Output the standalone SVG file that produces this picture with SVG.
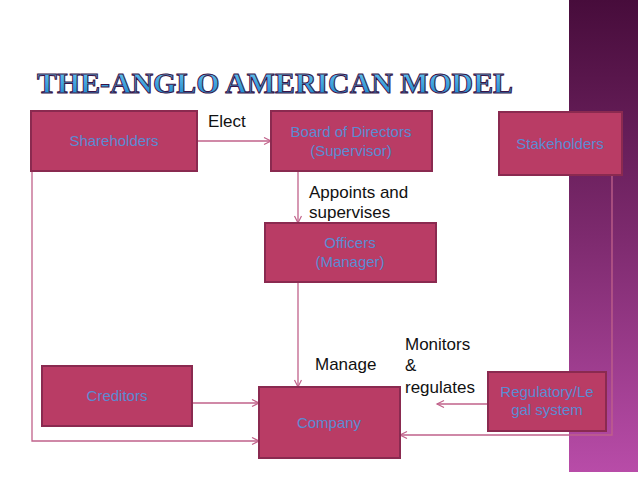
<svg xmlns="http://www.w3.org/2000/svg" width="638" height="479" viewBox="0 0 638 479">
  <defs>
    <linearGradient id="side" x1="0" y1="0" x2="0" y2="1">
      <stop offset="0" stop-color="#470c3b"/>
      <stop offset="0.5" stop-color="#7d2a6e"/>
      <stop offset="1" stop-color="#b84ca8"/>
    </linearGradient>
    <linearGradient id="titleFill" x1="0" y1="0" x2="0" y2="1">
      <stop offset="0" stop-color="#6fcdf5"/>
      <stop offset="1" stop-color="#1780c9"/>
    </linearGradient>
    <marker id="arr" markerWidth="10" markerHeight="10" refX="8" refY="4" orient="auto" markerUnits="userSpaceOnUse">
      <path d="M1,0.5 L8,4 L1,7.5" fill="none" stroke="#c0628a" stroke-width="1.2"/>
    </marker>
  </defs>
  <style>
    .box { fill: #b93c65; stroke: #8a2a50; stroke-width: 2; }
    .bt { font-family: "Liberation Sans", Arial, sans-serif; font-size: 15px; fill: #5b8bd2; text-anchor: middle; }
    .lbl { font-family: "Liberation Sans", Arial, sans-serif; font-size: 17px; fill: #111111; }
    .con { fill: none; stroke: #c0628a; stroke-width: 1.3; }
    .title { font-family: "Liberation Serif", "Times New Roman", serif; font-weight: bold; font-size: 30px; fill: url(#titleFill); stroke: #3a1448; stroke-width: 1; }
  </style>
  <rect x="0" y="0" width="638" height="479" fill="#ffffff"/>
  <rect x="569" y="0" width="69" height="472" fill="url(#side)"/>

  <text class="title" x="37" y="93" textLength="476" lengthAdjust="spacingAndGlyphs">THE-ANGLO AMERICAN MODEL</text>

  <g id="connectors">
    <line class="con" x1="197" y1="141" x2="271" y2="141" marker-end="url(#arr)"/>
    <line class="con" x1="298" y1="171" x2="298" y2="223" marker-end="url(#arr)"/>
    <line class="con" x1="298" y1="282" x2="298" y2="387" marker-end="url(#arr)"/>
    <line class="con" x1="192" y1="403" x2="259" y2="403" marker-end="url(#arr)"/>
    <polyline class="con" points="32,171 32,441 259,441" marker-end="url(#arr)"/>
    <line class="con" x1="488" y1="404" x2="437" y2="404" marker-end="url(#arr)"/>
    <polyline class="con" points="612,175 612,435 400,435" marker-end="url(#arr)"/>
  </g>

  <g id="shareholders">
    <rect class="box" x="31" y="111" width="166" height="60"/>
    <text class="bt" x="114" y="146">Shareholders</text>
  </g>
  <g id="board">
    <rect class="box" x="271" y="111" width="161" height="60"/>
    <text class="bt" x="351" y="137">Board of Directors</text>
    <text class="bt" x="351" y="156">(Supervisor)</text>
  </g>
  <g id="stakeholders">
    <rect class="box" x="499" y="112" width="123" height="63"/>
    <text class="bt" x="560" y="149">Stakeholders</text>
  </g>
  <g id="officers">
    <rect class="box" x="265" y="223" width="171" height="59"/>
    <text class="bt" x="350" y="248">Officers</text>
    <text class="bt" x="350" y="267">(Manager)</text>
  </g>
  <g id="creditors">
    <rect class="box" x="42" y="366" width="150" height="60"/>
    <text class="bt" x="117" y="401">Creditors</text>
  </g>
  <g id="company">
    <rect class="box" x="259" y="387" width="141" height="71"/>
    <text class="bt" x="329" y="428">Company</text>
  </g>
  <g id="regulatory">
    <rect class="box" x="488" y="372" width="118" height="59"/>
    <text class="bt" x="547" y="397">Regulatory/Le</text>
    <text class="bt" x="547" y="415">gal system</text>
  </g>

  <g id="labels">
    <text class="lbl" x="208" y="127">Elect</text>
    <text class="lbl" x="309" y="198">Appoints and</text>
    <text class="lbl" x="309" y="218">supervises</text>
    <text class="lbl" x="315" y="370">Manage</text>
    <text class="lbl" x="405" y="350">Monitors</text>
    <text class="lbl" x="405" y="371">&amp;</text>
    <text class="lbl" x="405" y="393">regulates</text>
  </g>
</svg>
